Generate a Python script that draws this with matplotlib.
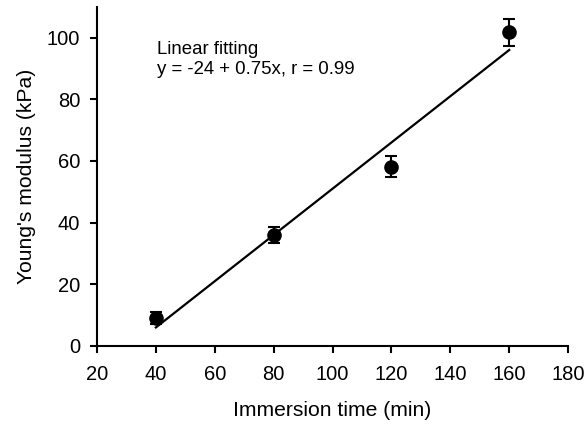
import matplotlib
matplotlib.use('Agg')
import matplotlib.pyplot as plt
import numpy as np

plt.rcParams['font.family'] = ['Liberation Sans', 'DejaVu Sans']

# data
immersion_time = [40, 80, 120, 160]
modulus = [9.0, 36.0, 58.2, 101.7]
modulus_err = [2.0, 2.5, 3.3, 4.3]

# linear fit shown on the chart
fit_intercept = -24
fit_slope = 0.75

fig = plt.figure(figsize=(5.86, 4.25), dpi=100)
ax = fig.add_axes([0.1655, 0.186, 0.804, 0.798])

fit_x = np.array([immersion_time[0], immersion_time[-1]])
ax.plot(fit_x, fit_intercept + fit_slope * fit_x, color='black', lw=1.6)
ax.errorbar(immersion_time, modulus, yerr=modulus_err, fmt='o', color='black',
            markersize=9.5, capsize=4, elinewidth=1.5, capthick=1.5)

ax.text(40.5, 98.8, 'Linear fitting\ny = -24 + 0.75x, r = 0.99', fontsize=13.4,
        va='top', ha='left', linespacing=1.18)

ax.set_xlim(20, 180)
ax.set_ylim(0, 110)
ax.set_xticks(range(20, 181, 20))
ax.set_yticks(range(0, 101, 20))
ax.spines['top'].set_visible(False)
ax.spines['right'].set_visible(False)
ax.spines['left'].set_linewidth(1.5)
ax.spines['bottom'].set_linewidth(1.5)
ax.tick_params(direction='out', length=5, width=1.5, labelsize=14.5)
ax.tick_params(axis='x', pad=9)
ax.tick_params(axis='y', pad=7)
ax.set_xlabel('Immersion time (min)', fontsize=15.2, labelpad=12)
ax.set_ylabel("Young's modulus (kPa)", fontsize=15.2, labelpad=8)

plt.savefig('out.png', dpi=100)
